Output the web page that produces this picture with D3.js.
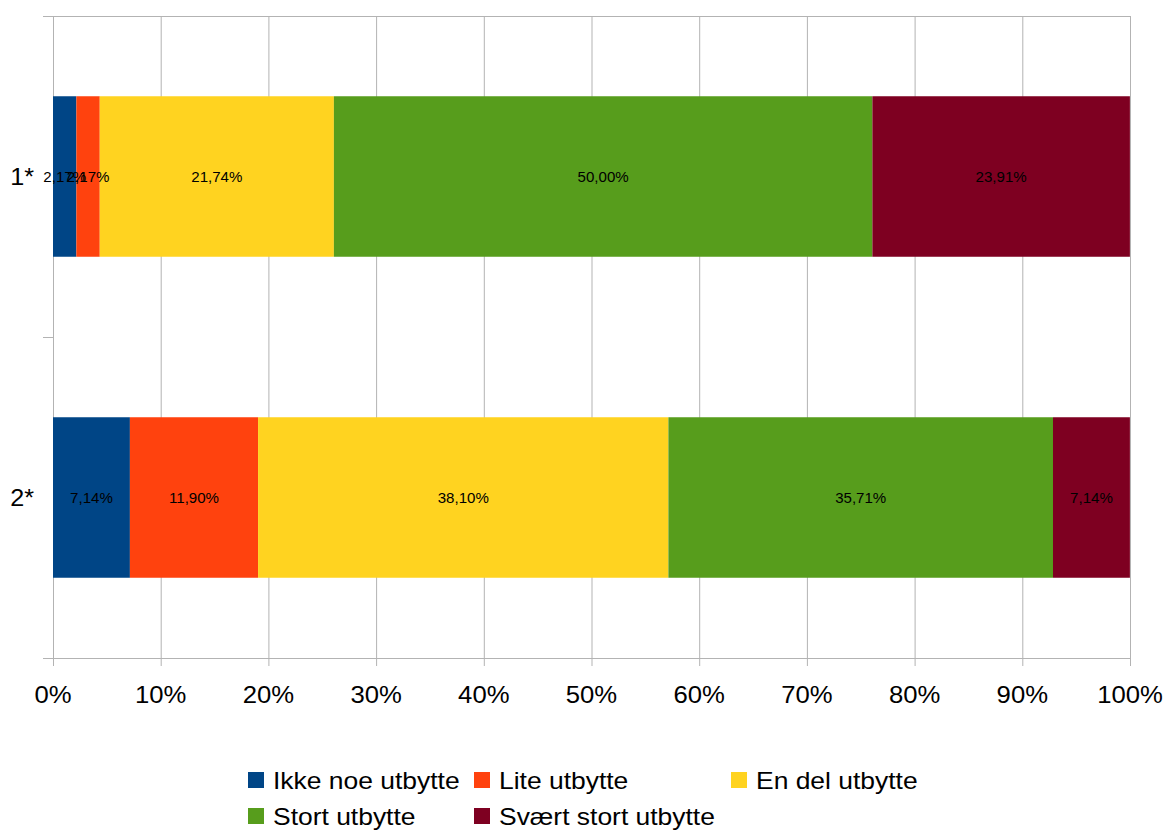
<!DOCTYPE html>
<html><head><meta charset="utf-8">
<script src="https://cdn.jsdelivr.net/npm/d3@7"></script>
<style>body{margin:0;background:#fff}svg{display:block;font-family:"Liberation Sans",Arial,sans-serif}</style>
</head><body>
<script>
const categories = ["1*", "2*"];
const seriesNames = ["Ikke noe utbytte", "Lite utbytte", "En del utbytte", "Stort utbytte", "Svært stort utbytte"];
const series1 = [2.17, 2.17, 21.74, 50.00, 23.91];
const series2 = [7.14, 11.90, 38.10, 35.71, 7.14];
const colors = ["#004586", "#ff420e", "#ffd320", "#579d1c", "#7e0021"];
const xTicks = [0,10,20,30,40,50,60,70,80,90,100];

(function(){
const W = 1166, H = 830;
const svg = d3.select("body").append("svg").attr("width", W).attr("height", H);
const pL = 53, pR = 1130, pT = 16, pB = 658;
const x = d3.scaleLinear().domain([0,100]).range([pL, pR]);
const y = d3.scaleBand().domain(categories).range([pT, pB]).paddingInner(0).paddingOuter(0);
const grid = "#b3b3b3";

svg.append("g").selectAll("line").data(xTicks).join("line")
  .attr("x1", d=>x(d)+0.5).attr("x2", d=>x(d)+0.5).attr("y1", pT).attr("y2", pB+8)
  .attr("stroke", grid).attr("stroke-width", 1);
svg.append("line").attr("x1", pL-10).attr("x2", pR).attr("y1", pT+0.5).attr("y2", pT+0.5).attr("stroke", grid);
const bounds = [pT, y("2*"), pB];
svg.append("g").selectAll("line").data(bounds).join("line")
  .attr("x1", pL-10).attr("x2", pL).attr("y1", d=>d+0.5).attr("y2", d=>d+0.5).attr("stroke", grid);
svg.append("line").attr("x1", pL-10).attr("x2", pR).attr("y1", pB+0.5).attr("y2", pB+0.5).attr("stroke", grid);

const data = [series1, series2];
const fmt = v => d3.format(".2f")(v).replace(".", ",") + "%";
const barH = y.bandwidth() * 0.5;
data.forEach((vals, ci) => {
  const cat = categories[ci];
  let acc = 0;
  const y0 = y(cat) + (y.bandwidth() - barH)/2;
  const g = svg.append("g");
  const segs = vals.map((v,i)=>{ const s={v, i, x0: acc, x1: acc+v}; acc += v; return s; });
  g.selectAll("rect").data(segs).join("rect")
    .attr("x", d=>x(d.x0)).attr("width", d=>x(d.x1)-x(d.x0))
    .attr("y", y0).attr("height", barH).attr("fill", d=>colors[d.i]);
  g.selectAll("text").data(segs).join("text")
    .attr("transform", d=>`translate(${(x(d.x0)+x(d.x1))/2},${y0 + barH/2 + 5.5}) scale(1.04,1)`)
    .attr("text-anchor", "middle").attr("font-size", 14.5).attr("fill", "#000")
    .text(d=>fmt(d.v));
});

svg.append("g").selectAll("text").data(categories).join("text")
  .attr("transform", d=>`translate(34,${y(d)+y.bandwidth()/2 + 8.5}) scale(1.05,1)`)
  .attr("text-anchor", "end").attr("font-size", 24).text(d=>d);

svg.append("g").selectAll("text").data(xTicks).join("text")
  .attr("transform", d=>`translate(${x(d)},703) scale(1.07,1)`).attr("text-anchor", "middle")
  .attr("font-size", 24).text(d=>d+"%");

const legPos = [[248,772],[474,772],[731,772],[248,808],[474,808]];
const lg = svg.append("g").selectAll("g").data(seriesNames).join("g")
  .attr("transform", (d,i)=>`translate(${legPos[i][0]},${legPos[i][1]})`);
lg.append("rect").attr("width", 16).attr("height", 16).attr("fill", (d,i)=>colors[i]);
lg.append("text").attr("transform", "translate(25,17) scale(1.15,1)").attr("font-size", 23).text(d=>d);
})();
</script>
</body></html>
